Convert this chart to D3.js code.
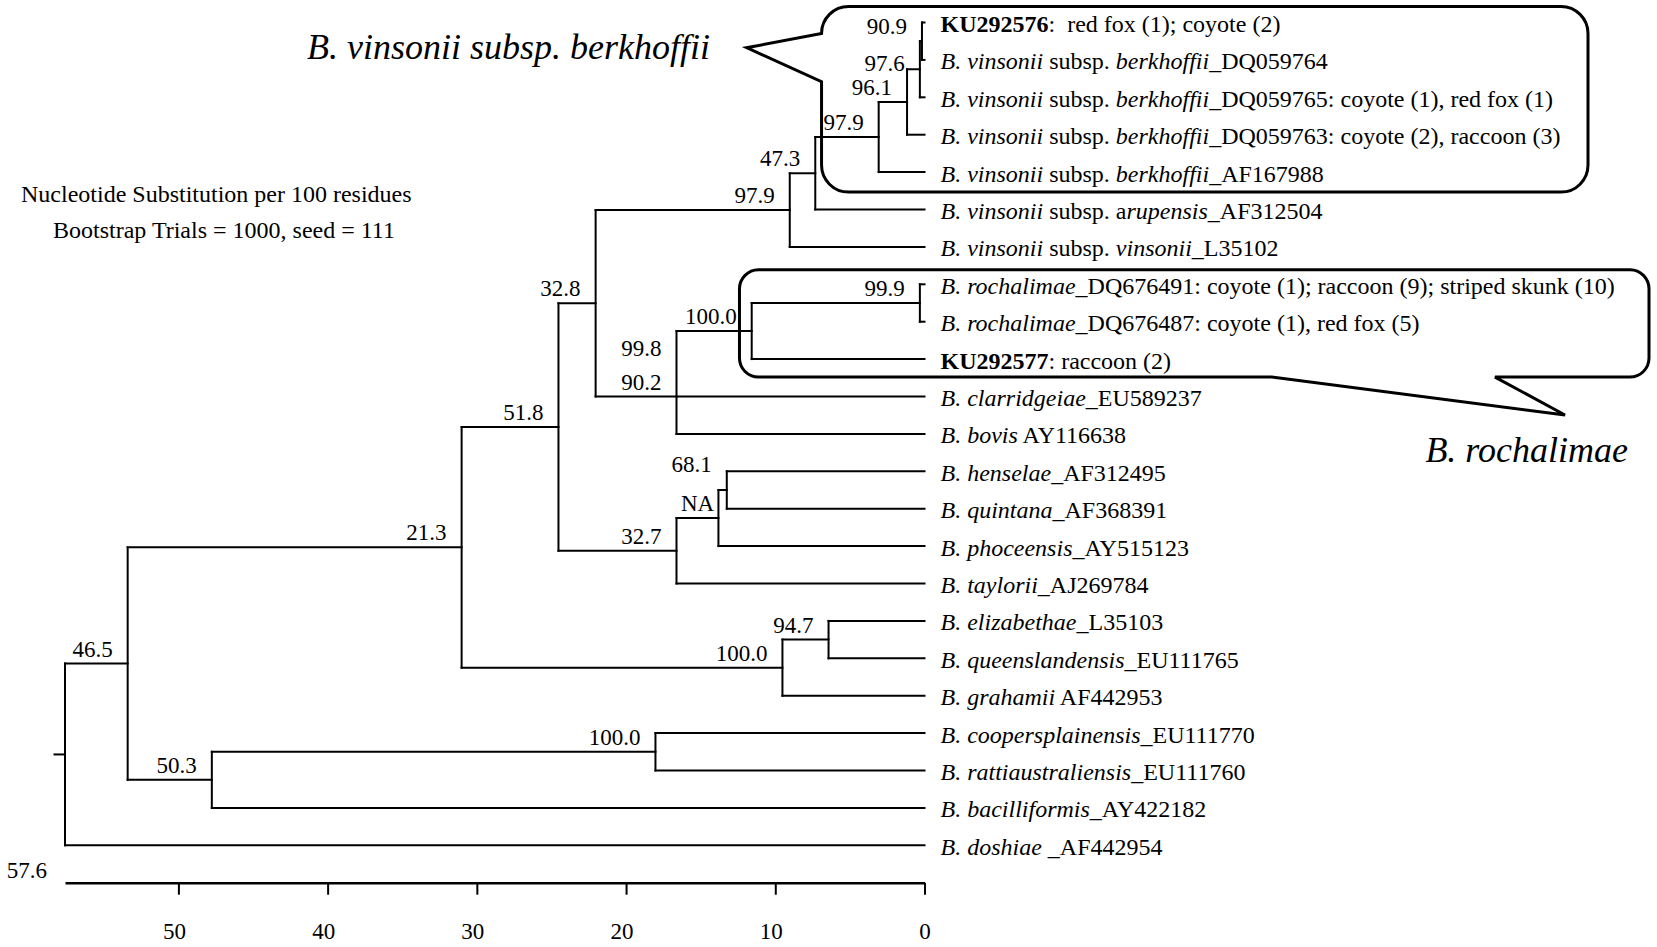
<!DOCTYPE html>
<html><head><meta charset="utf-8">
<script src="https://cdn.jsdelivr.net/npm/d3@7"></script>
<style>
body{margin:0;background:#fff}
svg{display:block}
text{font-family:"Liberation Serif","Times New Roman",Times,serif;fill:#000;white-space:pre}
</style>
</head><body>
<svg id="c" width="1657" height="947"></svg>
<script>
// ---------- data ----------
const leafLabels = [
  "**KU292576**:  red fox (1); coyote (2)",
  "*B. vinsonii* subsp. *berkhoffii*_DQ059764",
  "*B. vinsonii* subsp. *berkhoffii*_DQ059765: coyote (1), red fox (1)",
  "*B. vinsonii* subsp. *berkhoffii*_DQ059763: coyote (2), raccoon (3)",
  "*B. vinsonii* subsp. *berkhoffii*_AF167988",
  "*B. vinsonii* subsp. a*rupensis*_AF312504",
  "*B. vinsonii* subsp. *vinsonii*_L35102",
  "*B. rochalimae*_DQ676491: coyote (1); raccoon (9); striped skunk (10)",
  "*B. rochalimae*_DQ676487: coyote (1), red fox (5)",
  "**KU292577**: raccoon (2)",
  "*B. clarridgeiae*_EU589237",
  "*B. bovis* AY116638",
  "*B. henselae*_AF312495",
  "*B. quintana*_AF368391",
  "*B. phoceensis*_AY515123",
  "*B. taylorii*_AJ269784",
  "*B. elizabethae*_L35103",
  "*B. queenslandensis*_EU111765",
  "*B. grahamii* AF442953",
  "*B. coopersplainensis*_EU111770",
  "*B. rattiaustraliensis*_EU111760",
  "*B. bacilliformis*_AY422182",
  "*B. doshiae* _AF442954"
];
const nodeIds      = ["J","I","H","G","F","E","R","M","Y","D","T","S","Q","C","X","W","B","V","U","A","root"];
const nodeHeights  = [0.17,0.31,1.17,3.07,7.32,9.03,0.31,11.58,16.62,22.04,13.25,13.81,16.62,24.53,6.43,9.52,31.02,18.03,47.76,53.40,57.6];
const nodeChildren = [["L0","L1"],["J","L2"],["I","L3"],["H","L4"],["G","L5"],["F","L6"],
  ["L7","L8"],["R","L9"],["M","L10","L11"],["E","Y"],["L12","L13"],["T","L14"],["S","L15"],
  ["D","Q"],["L16","L17"],["X","L18"],["C","W"],["L19","L20"],["V","L21"],["B","U"],["A","L22"]];
const nodeSupport  = ["90.9","97.6","96.1","97.9","47.3","97.9","99.9","100.0","90.2","32.8",
  "68.1","NA","32.7","51.8","94.7","100.0","21.3","100.0","50.3","46.5",null];
const extraSupportNode = "Y";
const extraSupportLabel = "99.8";
const axisTicks = [50,40,30,20,10,0];
const axisMax = 57.6;
const cladeNames = ["B. vinsonii subsp. berkhoffii","B. rochalimae"];
const infoLines = ["Nucleotide Substitution per 100 residues","Bootstrap Trials = 1000, seed = 111"];

// ---------- build tree ----------
const svg = d3.select("#c");
const x = d3.scaleLinear().domain([axisMax,0]).range([65,924.5]);
const yRow = d3.scaleLinear().domain([0,23]).range([22.5,882.7]);

const nodes = {};
leafLabels.forEach((l,i)=>{ nodes["L"+i] = {id:"L"+i, h:0, leaf:true, idx:i, label:l}; });
nodeIds.forEach((id,i)=>{ nodes[id] = {id, h:nodeHeights[i], children:nodeChildren[i], support:nodeSupport[i]}; });
function place(n, parent){
  n.parent = parent;
  if(n.leaf){ n.y = yRow(n.idx); return n.y; }
  const ys = n.children.map(c=>place(nodes[c], n));
  n.y = ys.length % 2 === 1 ? ys[(ys.length-1)/2] : (ys[0]+ys[ys.length-1])/2;
  return n.y;
}
const root = nodes["root"];
place(root, null);

const g = svg.append("g");
const lineAttrs = sel => sel.attr("stroke","#000").attr("stroke-width",2).attr("stroke-linecap","square").attr("fill","none");

// branches
nodeIds.forEach(id=>{
  const n = nodes[id];
  const kids = n.children.map(c=>nodes[c]);
  const ys = kids.map(k=>k.y);
  g.append("line").call(lineAttrs)
    .attr("x1",x(n.h)).attr("x2",x(n.h)).attr("y1",d3.min(ys)).attr("y2",d3.max(ys));
  kids.forEach(k=>{
    g.append("line").call(lineAttrs)
      .attr("x1",x(n.h)).attr("x2",x(k.h)).attr("y1",k.y).attr("y2",k.y);
  });
});
// root stub
g.append("line").call(lineAttrs).attr("x1",x(axisMax)-10.5).attr("x2",x(axisMax)).attr("y1",root.y).attr("y2",root.y);

// support labels (placed above the branch leading to the node)
const labelShift = {I: 8.5, T: -11.5};
nodeIds.forEach(id=>{
  const n = nodes[id];
  if(!n.support) return;
  let tx = x(n.h)-15, ty = n.y-7 + (labelShift[id]||0), anchor = "end";
  if(id==="S"){ tx = x(n.parent.h)+4.5; anchor = "start"; }
  g.append("text").attr("x",tx).attr("y",ty).attr("text-anchor",anchor)
    .attr("font-size",23).text(n.support);
});
{
  const n = nodes[extraSupportNode];
  const ty = (n.y + nodes[n.children[0]].y)/2 - 8;
  g.append("text").attr("x",x(n.h)-15).attr("y",ty).attr("text-anchor","end")
    .attr("font-size",23).text(extraSupportLabel);
}

// leaf labels
leafLabels.forEach((lab,i)=>{
  const t = g.append("text").attr("x",x(0)+16).attr("y",yRow(i)+9.5).attr("font-size",24);
  lab.split(/(\*\*[^*]+\*\*|\*[^*]+\*)/).filter(s=>s.length).forEach(seg=>{
    const ts = t.append("tspan");
    if(seg.startsWith("**")){ ts.attr("font-weight","bold").text(seg.slice(2,-2)); }
    else if(seg.startsWith("*")){ ts.attr("font-style","italic").text(seg.slice(1,-1)); }
    else ts.text(seg);
  });
});

// axis
const axisY = yRow(23);
const ax = svg.append("g").attr("transform",`translate(0,${axisY})`)
  .call(d3.axisBottom(x).tickValues(axisTicks).tickSize(12).tickSizeOuter(0).tickPadding(28).tickFormat(d3.format("d")));
ax.attr("font-family",null).attr("font-size",null);
ax.select(".domain").attr("stroke","#000").attr("stroke-width",2.5);
ax.selectAll(".tick line").attr("stroke","#000").attr("stroke-width",2);
ax.selectAll(".tick text").attr("font-size",23).attr("fill","#000").attr("dx",d=>d===0?0:-4.5);
svg.append("text").attr("x",x(axisMax)-18).attr("y",axisY-4.5).attr("text-anchor","end")
  .attr("font-size",23).text(String(axisMax));

// info text
svg.append("text").attr("x",21).attr("y",201.5).attr("font-size",24).text(infoLines[0]);
svg.append("text").attr("x",53).attr("y",237.5).attr("font-size",24).text(infoLines[1]);

// callouts
function callout(L,T,R,B,r,ptr){
  const p = d3.path();
  if(ptr.side==="left"){
    p.moveTo(L, ptr.b2);
    p.lineTo(L, B-r); p.arcTo(L,B,L+r,B,r);
    p.lineTo(R-r, B); p.arcTo(R,B,R,B-r,r);
    p.lineTo(R, T+r); p.arcTo(R,T,R-r,T,r);
    p.lineTo(L+r, T); p.arcTo(L,T,L,T+r,r);
    p.lineTo(L, ptr.b1); p.lineTo(ptr.tx, ptr.ty); p.closePath();
  } else {
    p.moveTo(L+r, T);
    p.lineTo(R-r, T); p.arcTo(R,T,R,T+r,r);
    p.lineTo(R, B-r); p.arcTo(R,B,R-r,B,r);
    p.lineTo(ptr.b2, B); p.lineTo(ptr.tx, ptr.ty); p.lineTo(ptr.b1, B);
    p.lineTo(L+r, B); p.arcTo(L,B,L,B-r,r);
    p.lineTo(L, T+r); p.arcTo(L,T,L+r,T,r); p.closePath();
  }
  svg.append("path").attr("d",p.toString()).attr("fill","none").attr("stroke","#000")
    .attr("stroke-width",3).attr("stroke-linejoin","miter");
}
callout(x(6.9), yRow(0)-16, 1588, yRow(4)+20, 27,
  {side:"left", b1:yRow(0)-16+27, b2:81.7, tx:746.7, ty:47.7});
callout(x(12.4), yRow(7)-14.5, 1649, yRow(9)+18, 19,
  {side:"bottom", b1:1271.7, b2:1495, tx:1565, ty:415});

svg.append("text").attr("x",307).attr("y",58.5).attr("font-size",36).attr("font-style","italic").text(cladeNames[0]);
svg.append("text").attr("x",1628).attr("y",462).attr("text-anchor","end").attr("font-size",36).attr("font-style","italic").text(cladeNames[1]);
</script>
</body></html>
